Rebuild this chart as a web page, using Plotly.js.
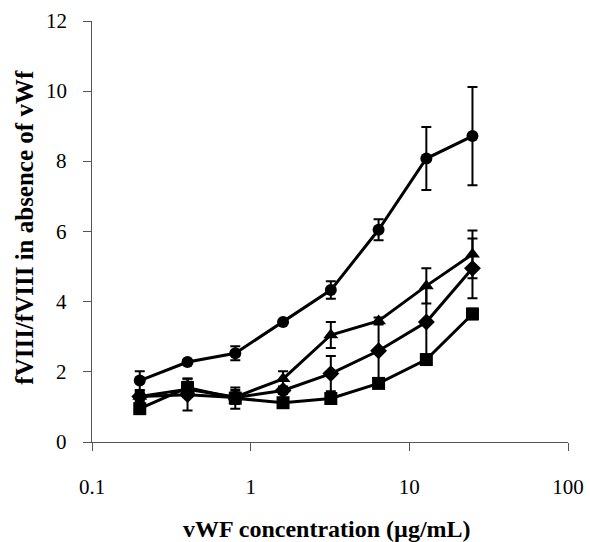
<!DOCTYPE html>
<html>
<head>
<meta charset="utf-8">
<script src="https://cdn.plot.ly/plotly-3.0.1.min.js"></script>
<style>html,body{margin:0;padding:0;background:#fff;}#chart{width:590px;height:542px;}</style>
</head>
<body>
<div id="chart"></div>
<script>
const concentrations = [0.2, 0.4, 0.8, 1.6, 3.2, 6.4, 12.8, 25];

const circleValues = [1.75, 2.28, 2.53, 3.42, 4.33, 6.05, 8.08, 8.72];
const circleErrors = [0.27, 0.05, 0.2, 0.05, 0.25, 0.3, 0.9, 1.4];

const triangleValues = [1.3, 1.5, 1.28, 1.8, 3.05, 3.45, 4.45, 5.35];
const triangleErrors = [0.15, 0.22, 0.2, 0.22, 0.37, 0.1, 0.5, 0.68];

const diamondValues = [1.3, 1.35, 1.27, 1.47, 1.95, 2.6, 3.42, 4.95];
const diamondErrors = [0.1, 0.45, 0.15, 0.1, 0.5, 0.8, 1.0, 0.85];

const squareValues = [0.95, 1.55, 1.25, 1.12, 1.24, 1.67, 2.35, 3.65];
const squareErrors = [0.1, 0.26, 0.3, 0.1, 0.1, 0.1, 0.1, 0.15];

const xTickVals = [0.1, 1, 10, 100];
const xTickText = ['0.1', '1', '10', '100'];
const yTickVals = [0, 2, 4, 6, 8, 10, 12];
const yTickText = ['0', '2', '4', '6', '8', '10', '12'];

const xTitle = 'vWF concentration (µg/mL)';
const yTitle = 'fVIII/fVIII in absence of vWf';

function series(values, errors, symbol, size) {
  return {
    x: concentrations, y: values, type: 'scatter', mode: 'lines+markers',
    line: {color: '#000', width: 3},
    marker: {symbol: symbol, size: size, color: '#000'},
    error_y: {type: 'data', array: errors, visible: true, color: '#000', thickness: 2, width: 5},
    showlegend: false
  };
}

const data = [
  series(squareValues, squareErrors, 'square', 13),
  series(diamondValues, diamondErrors, 'diamond', 13),
  series(triangleValues, triangleErrors, 'triangle-up', 13),
  series(circleValues, circleErrors, 'circle', 12)
];

const serif = 'Liberation Serif';

const yLabelAnnotations = yTickVals.map((v, i) => ({
  text: yTickText[i], xref: 'paper', yref: 'y', x: -0.0476, y: v,
  xanchor: 'right', yanchor: 'middle', showarrow: false,
  font: {family: serif, size: 21, color: '#000'}
}));

const layout = {
  width: 590, height: 542,
  margin: {l: 92, r: 22, t: 21, b: 100},
  paper_bgcolor: '#fff', plot_bgcolor: '#fff',
  xaxis: {
    type: 'log', range: [-1, 2],
    tickmode: 'array', tickvals: xTickVals, ticktext: xTickText,
    showgrid: false, zeroline: false,
    showline: true, linecolor: '#555', linewidth: 1,
    ticks: 'outside', ticklen: 8, tickcolor: '#555', tickwidth: 1,
    ticklabelstandoff: 18,
    tickfont: {family: serif, size: 21, color: '#000'}
  },
  yaxis: {
    range: [0, 12], tickmode: 'array', tickvals: yTickVals,
    showgrid: false, zeroline: false,
    showline: true, linecolor: '#555', linewidth: 1,
    ticks: 'outside', ticklen: 8, tickcolor: '#555', tickwidth: 1,
    showticklabels: false
  },
  annotations: yLabelAnnotations.concat([{
    text: '<b>' + xTitle + '</b>',
    xref: 'paper', yref: 'paper',
    x: 0.4927, y: -0.2065, xanchor: 'center', yanchor: 'middle',
    showarrow: false,
    font: {family: serif, size: 24, color: '#000'}
  }, {
    text: '<b>' + yTitle + '</b>',
    xref: 'paper', yref: 'paper', textangle: -90,
    x: -0.142, y: 0.51, xanchor: 'center', yanchor: 'middle',
    showarrow: false,
    font: {family: serif, size: 25, color: '#000'}
  }])
};

Plotly.newPlot('chart', data, layout, {displayModeBar: false});
</script>
</body>
</html>
